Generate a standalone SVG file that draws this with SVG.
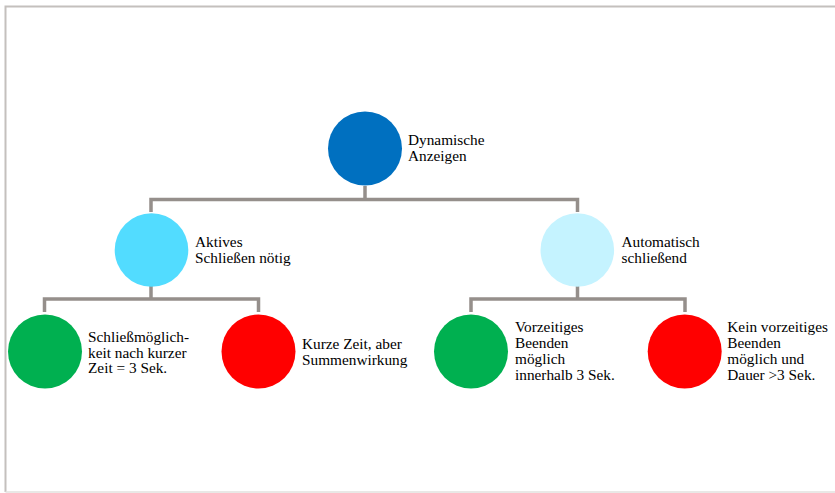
<svg xmlns="http://www.w3.org/2000/svg" width="835" height="493" viewBox="0 0 835 493">
<style>
  .lbl { font-family: "Liberation Serif", "Times New Roman", serif; font-size: 15.3px; fill: #000; }
  .conn { fill: none; stroke: #958f8b; stroke-width: 3.5; stroke-linejoin: miter; }
</style>
<rect x="0" y="0" width="835" height="493" fill="#ffffff"/>
<path d="M5.5 492 V6.5 H836" fill="none" stroke="#c4c0bd" stroke-width="2"/>
<line x1="5.5" y1="492" x2="836" y2="492" stroke="#e2e0de" stroke-width="1.5"/>
<g id="connectors">
  <path class="conn" d="M365 186 V199.5"/>
  <path class="conn" d="M151 212 V199.5 H577.5 V212"/>
  <path class="conn" d="M151 286 V299"/>
  <path class="conn" d="M44.5 312 V299 H258.5 V312"/>
  <path class="conn" d="M577.5 286 V299"/>
  <path class="conn" d="M471 312 V299 H685 V312"/>
</g>
<g id="node-root">
  <circle cx="365" cy="148.5" r="37" fill="#0070C0"/>
  <text class="lbl" x="408" y="145">Dynamische</text>
  <text class="lbl" x="408" y="161">Anzeigen</text>
</g>
<g id="node-aktiv">
  <circle cx="151.5" cy="250" r="36.8" fill="#52DCFF"/>
  <text class="lbl" x="195" y="246.7">Aktives</text>
  <text class="lbl" x="195" y="262.7">Schließen nötig</text>
</g>
<g id="node-auto">
  <circle cx="577.3" cy="250" r="36.8" fill="#C5F3FF"/>
  <text class="lbl" x="621.5" y="246.7">Automatisch</text>
  <text class="lbl" x="621.5" y="262.7">schließend</text>
</g>
<g id="node-aktiv-gruen">
  <circle cx="45" cy="351.5" r="37" fill="#00B050"/>
  <text class="lbl" x="88" y="342">Schließmöglich-</text>
  <text class="lbl" x="88" y="357.7">keit nach kurzer</text>
  <text class="lbl" x="88" y="373.4">Zeit = 3 Sek.</text>
</g>
<g id="node-aktiv-rot">
  <circle cx="258.5" cy="351.5" r="37" fill="#FF0000"/>
  <text class="lbl" x="302" y="349">Kurze Zeit, aber</text>
  <text class="lbl" x="302" y="365">Summenwirkung</text>
</g>
<g id="node-auto-gruen">
  <circle cx="471" cy="351.5" r="37" fill="#00B050"/>
  <text class="lbl" x="515" y="332.3">Vorzeitiges</text>
  <text class="lbl" x="515" y="348.3">Beenden</text>
  <text class="lbl" x="515" y="364.2">möglich</text>
  <text class="lbl" x="515" y="380.1">innerhalb 3 Sek.</text>
</g>
<g id="node-auto-rot">
  <circle cx="684.7" cy="351.5" r="37" fill="#FF0000"/>
  <text class="lbl" x="727.3" y="332.3">Kein vorzeitiges</text>
  <text class="lbl" x="727.3" y="348.3">Beenden</text>
  <text class="lbl" x="727.3" y="364.2">möglich und</text>
  <text class="lbl" x="727.3" y="380.1">Dauer &gt;3 Sek.</text>
</g>
</svg>
